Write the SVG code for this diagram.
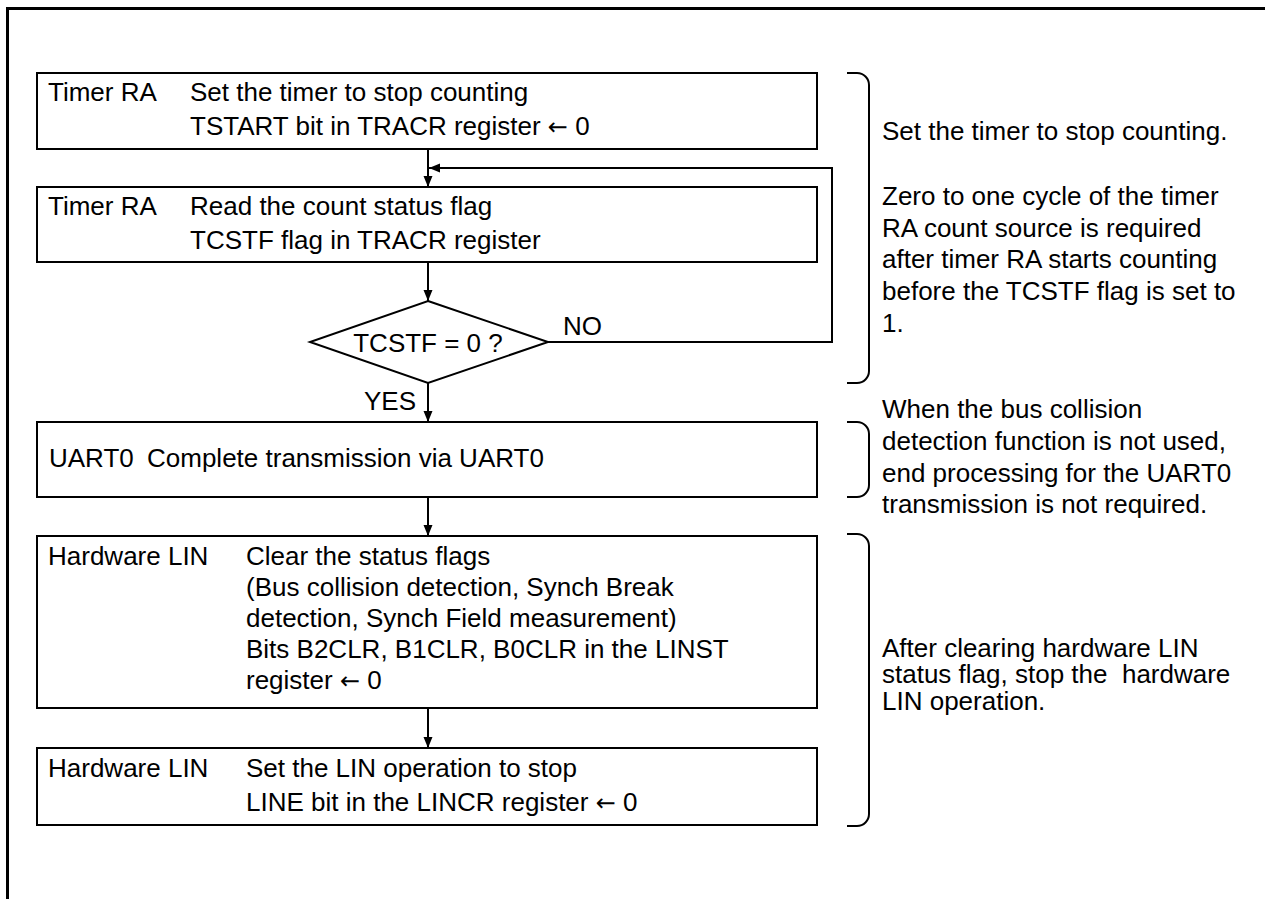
<svg xmlns="http://www.w3.org/2000/svg" width="1265" height="899" viewBox="0 0 1265 899">
<style>
text{font-family:"Liberation Sans",Arial,sans-serif;font-size:26px;fill:#000}
.arr{font-family:"DejaVu Sans",sans-serif;font-size:24px}
.box{fill:#fff;stroke:#000;stroke-width:2}
.conn{fill:none;stroke:#000;stroke-width:2}
.br{fill:none;stroke:#000;stroke-width:2}
</style>
<defs>
<marker id="ah" markerUnits="userSpaceOnUse" markerWidth="12" markerHeight="12" refX="11" refY="6" orient="auto">
<path d="M0,1.5 L11,6 L0,10.5 Z" fill="#000"/>
</marker>
</defs>
<rect width="1265" height="899" fill="#fff"/>
<path d="M7.5,899 V8.5 H1265" fill="none" stroke="#000" stroke-width="3"/>

<g id="connectors">
<line class="conn" x1="428" y1="149" x2="428" y2="187" marker-end="url(#ah)"/>
<polyline class="conn" points="548,342 832,342 832,168 429,168" marker-end="url(#ah)"/>
<line class="conn" x1="428" y1="262" x2="428" y2="301" marker-end="url(#ah)"/>
<line class="conn" x1="428" y1="383" x2="428" y2="422" marker-end="url(#ah)"/>
<line class="conn" x1="428" y1="497" x2="428" y2="536" marker-end="url(#ah)"/>
<line class="conn" x1="428" y1="708" x2="428" y2="748" marker-end="url(#ah)"/>
<text x="563" y="335">NO</text>
<text x="364" y="410">YES</text>
</g>

<g id="n1">
<rect class="box" x="37" y="73" width="780" height="76"/>
<text x="48" y="101">Timer RA</text>
<text x="190" y="101">Set the timer to stop counting</text>
<text x="190" y="135">TSTART bit in TRACR register <tspan class="arr">←</tspan> 0</text>
</g>
<g id="n2">
<rect class="box" x="37" y="187" width="780" height="75"/>
<text x="48" y="215">Timer RA</text>
<text x="190" y="215">Read the count status flag</text>
<text x="190" y="249">TCSTF flag in TRACR register</text>
</g>
<g id="n3">
<polygon class="box" points="428,301 548,342 428,383 310,342"/>
<text x="428" y="352" text-anchor="middle">TCSTF = 0 ?</text>
</g>
<g id="n4">
<rect class="box" x="37" y="422" width="780" height="75"/>
<text x="49" y="467">UART0</text>
<text x="147" y="467">Complete transmission via UART0</text>
</g>
<g id="n5">
<rect class="box" x="37" y="536" width="780" height="172"/>
<text x="48" y="565">Hardware LIN</text>
<text x="246" y="565">Clear the status flags</text>
<text x="246" y="596">(Bus collision detection, Synch Break</text>
<text x="246" y="627">detection, Synch Field measurement)</text>
<text x="246" y="658">Bits B2CLR, B1CLR, B0CLR in the LINST</text>
<text x="246" y="689">register <tspan class="arr">←</tspan> 0</text>
</g>
<g id="n6">
<rect class="box" x="37" y="748" width="780" height="77"/>
<text x="48" y="777">Hardware LIN</text>
<text x="246" y="777">Set the LIN operation to stop</text>
<text x="246" y="811">LINE bit in the LINCR register <tspan class="arr">←</tspan> 0</text>
</g>

<g id="note1">
<path class="br" d="M847,73 H857 A12,12 0 0 1 869,85 V371 A12,12 0 0 1 857,383 H847"/>
<text x="882" y="140">Set the timer to stop counting.</text>
<text x="882" y="205">Zero to one cycle of the timer</text>
<text x="882" y="237">RA count source is required</text>
<text x="882" y="268">after timer RA starts counting</text>
<text x="882" y="300">before the TCSTF flag is set to</text>
<text x="882" y="332">1.</text>
</g>
<g id="note2">
<path class="br" d="M847,422 H857 A12,12 0 0 1 869,434 V485 A12,12 0 0 1 857,497 H847"/>
<text x="882" y="418">When the bus collision</text>
<text x="882" y="450">detection function is not used,</text>
<text x="882" y="482">end processing for the UART0</text>
<text x="882" y="513">transmission is not required.</text>
</g>
<g id="note3">
<path class="br" d="M847,534 H857 A12,12 0 0 1 869,546 V814 A12,12 0 0 1 857,826 H847"/>
<text x="882" y="657">After clearing hardware LIN</text>
<text x="882" y="683" xml:space="preserve">status flag, stop the  hardware</text>
<text x="882" y="710">LIN operation.</text>
</g>
</svg>
